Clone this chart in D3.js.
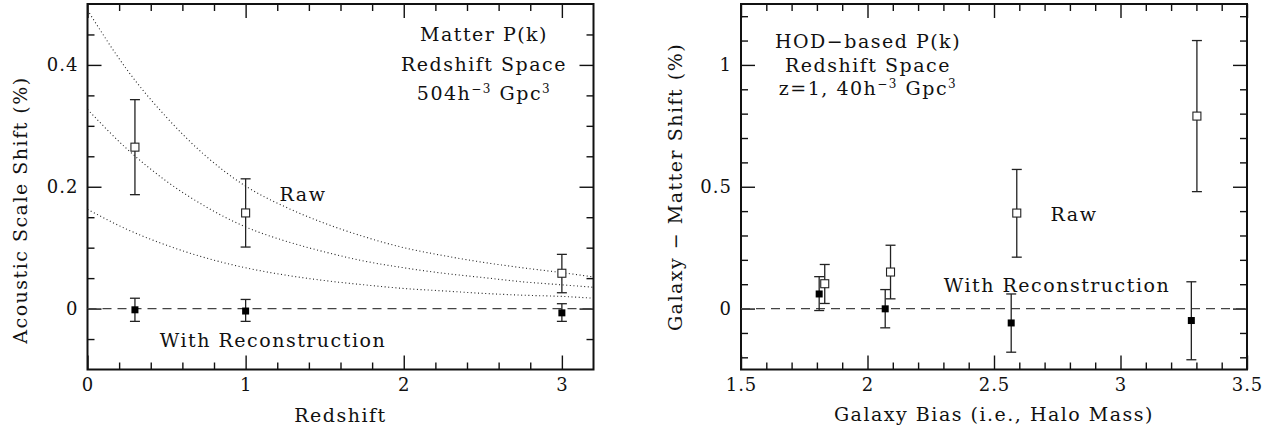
<!DOCTYPE html>
<html><head><meta charset="utf-8">
<script src="https://cdn.jsdelivr.net/npm/d3@7"></script>
<style>
body{margin:0;background:#fff;}
text{font-family:"DejaVu Serif",serif;fill:#111;}
</style></head>
<body><svg id="c" width="1276" height="431"></svg>
<script>
// ---------- Left panel data ----------
const leftZ = [0.3, 1, 3];
const leftRaw = [0.265, 0.157, 0.058];
const leftRawHi = [0.343, 0.213, 0.089];
const leftRawLo = [0.187, 0.101, 0.026];
const leftRec = [-0.002, -0.004, -0.007];
const leftRecHi = [0.017, 0.015, 0.008];
const leftRecLo = [-0.021, -0.021, -0.021];
// dotted model curves
const curveZ = [0, 0.25, 0.5, 0.75, 1, 1.25, 1.5, 1.75, 2, 2.25, 2.5, 2.75, 3, 3.2];
const curveTop = [0.490, 0.392, 0.314, 0.250, 0.201, 0.167, 0.140, 0.118, 0.100, 0.087, 0.076, 0.067, 0.059, 0.052];
const curveMid = [0.327, 0.262, 0.209, 0.167, 0.134, 0.111, 0.093, 0.078, 0.067, 0.058, 0.051, 0.044, 0.039, 0.035];
const curveLow = [0.163, 0.130, 0.104, 0.083, 0.067, 0.055, 0.046, 0.039, 0.033, 0.029, 0.025, 0.022, 0.020, 0.017];
const leftXTicks = [0, 1, 2, 3];
const leftXTickLabels = ["0", "1", "2", "3"];
const leftYTicks = [0, 0.2, 0.4];
const leftYTickLabels = ["0", "0.2", "0.4"];

// ---------- Right panel data ----------
const rawBias = [1.831, 2.091, 2.590, 3.302];
const rawShift = [0.102, 0.150, 0.392, 0.790];
const rawHi = [0.181, 0.260, 0.571, 1.100];
const rawLo = [0.021, 0.040, 0.211, 0.480];
const recBias = [1.809, 2.070, 2.568, 3.280];
const recShift = [0.060, -0.001, -0.059, -0.049];
const recHi = [0.131, 0.078, 0.060, 0.110];
const recLo = [-0.008, -0.079, -0.179, -0.210];
const rightXTicks = [1.5, 2, 2.5, 3, 3.5];
const rightXTickLabels = ["1.5", "2", "2.5", "3", "3.5"];
const rightYTicks = [0, 0.5, 1];
const rightYTickLabels = ["0", "0.5", "1"];

const svg = d3.select("#c");
const FS = 19, LS = 1.5;

function range(a, b, s){ const o=[]; for(let v=a; v<=b+1e-9; v+=s) o.push(Math.round(v*1000)/1000); return o; }

function panel(opt){
  const g = svg.append("g");
  const x = d3.scaleLinear().domain(opt.xd).range([opt.x0, opt.x1]);
  const y = d3.scaleLinear().domain(opt.yd).range([opt.y1, opt.y0]);
  const clipId = "clip"+opt.id;
  svg.append("clipPath").attr("id", clipId).append("rect")
    .attr("x", opt.x0).attr("y", opt.y0).attr("width", opt.x1-opt.x0).attr("height", opt.y1-opt.y0);

  const minorX = opt.minorX.filter(v => !opt.xTicks.some(m => Math.abs(m-v)<1e-6));
  const minorY = opt.minorY.filter(v => !opt.yTicks.some(m => Math.abs(m-v)<1e-6));
  const styleAxis = sel => { sel.select(".domain").remove(); sel.selectAll("line").attr("stroke","#111").attr("stroke-width",1.4); sel.selectAll("text").style("font-size",(FS-1)+"px").style("letter-spacing","1px").attr("fill","#111").style("font-family","DejaVu Serif"); };
  const fmtX = d => opt.xLabels[opt.xTicks.indexOf(d)];
  const fmtY = d => opt.yLabels[opt.yTicks.indexOf(d)];

  // bottom
  g.append("g").attr("transform",`translate(0,${opt.y1})`).call(d3.axisBottom(x).tickValues(opt.xTicks).tickSize(-14).tickPadding(9).tickFormat(fmtX)).call(styleAxis);
  g.append("g").attr("transform",`translate(0,${opt.y1})`).call(d3.axisBottom(x).tickValues(minorX).tickSize(-7).tickFormat("")).call(styleAxis);
  // top
  g.append("g").attr("transform",`translate(0,${opt.y0})`).call(d3.axisTop(x).tickValues(opt.xTicks).tickSize(-14).tickFormat("")).call(styleAxis);
  g.append("g").attr("transform",`translate(0,${opt.y0})`).call(d3.axisTop(x).tickValues(minorX).tickSize(-7).tickFormat("")).call(styleAxis);
  // left
  g.append("g").attr("transform",`translate(${opt.x0},0)`).call(d3.axisLeft(y).tickValues(opt.yTicks).tickSize(-14).tickPadding(9).tickFormat(fmtY)).call(styleAxis);
  g.append("g").attr("transform",`translate(${opt.x0},0)`).call(d3.axisLeft(y).tickValues(minorY).tickSize(-7).tickFormat("")).call(styleAxis);
  // right
  g.append("g").attr("transform",`translate(${opt.x1},0)`).call(d3.axisRight(y).tickValues(opt.yTicks).tickSize(-14).tickFormat("")).call(styleAxis);
  g.append("g").attr("transform",`translate(${opt.x1},0)`).call(d3.axisRight(y).tickValues(minorY).tickSize(-7).tickFormat("")).call(styleAxis);

  // frame
  g.append("rect").attr("x",opt.x0).attr("y",opt.y0).attr("width",opt.x1-opt.x0).attr("height",opt.y1-opt.y0)
    .attr("fill","none").attr("stroke","#111").attr("stroke-width",2);

  // zero dashed line
  g.append("line").attr("x1",opt.x0).attr("x2",opt.x1).attr("y1",y(0)).attr("y2",y(0))
    .attr("stroke","#444").attr("stroke-width",1.3).attr("stroke-dasharray","9,6");

  // axis titles
  g.append("text").attr("x",(opt.x0+opt.x1)/2).attr("y",opt.xTitleY).attr("text-anchor","middle")
    .style("font-size",FS+"px").style("letter-spacing",LS+"px").text(opt.xTitle);
  g.append("text").attr("transform",`translate(${opt.yTitleX},${opt.yTitleC}) rotate(-90)`).attr("text-anchor","middle")
    .attr("dominant-baseline","central").style("font-size",FS+"px").style("letter-spacing",LS+"px").text(opt.yTitle);

  return {g, x, y, clipId};
}

function errbars(P, xs, ys, hi, lo, cap){
  const g = P.g.append("g");
  xs.forEach((xv,i)=>{
    const cx = P.x(xv);
    g.append("line").attr("x1",cx).attr("x2",cx).attr("y1",P.y(hi[i])).attr("y2",P.y(lo[i])).attr("stroke","#222").attr("stroke-width",1.3);
    [hi[i], lo[i]].forEach(v=>{
      g.append("line").attr("x1",cx-cap/2).attr("x2",cx+cap/2).attr("y1",P.y(v)).attr("y2",P.y(v)).attr("stroke","#222").attr("stroke-width",1.3);
    });
  });
}
function squares(P, xs, ys, filled){
  const s = filled ? 7 : 8;
  P.g.append("g").selectAll("rect").data(xs).join("rect")
    .attr("x",(d)=>P.x(d)-s/2).attr("y",(d,i)=>P.y(ys[i])-s/2).attr("width",s).attr("height",s)
    .attr("fill", filled ? "#000" : "#fff").attr("stroke", filled ? "none" : "#222").attr("stroke-width",1.1);
}
function label(P, x, y, lines, dy){
  lines.forEach((l,i)=>{
    const t = P.g.append("text").attr("x",x).attr("y",y+i*dy).attr("text-anchor","middle")
      .style("font-size",FS+"px").style("letter-spacing",LS+"px");
    l.forEach(seg=>{
      const ts = t.append("tspan").text(seg.t);
      if(seg.sup){ ts.style("font-size","12px").attr("baseline-shift","7"); }
    });
  });
}

// ===== Left panel =====
const L = panel({id:"L", xd:[0,3.2], yd:[-0.1,0.5], x0:87.5, x1:593.5, y0:4, y1:369.5,
  xTicks:leftXTicks, xLabels:leftXTickLabels, yTicks:leftYTicks, yLabels:leftYTickLabels,
  minorX: range(0.2,3.0,0.2), minorY: range(-0.05,0.45,0.05),
  xTitle:"Redshift", xTitleY:422, yTitle:"Acoustic Scale Shift (%)", yTitleX:20, yTitleC:210});

const lineGen = d3.line().x((d,i)=>L.x(curveZ[i])).y(d=>L.y(d)).curve(d3.curveMonotoneX);
[curveTop, curveMid, curveLow].forEach(c=>{
  L.g.append("path").attr("d", lineGen(c)).attr("clip-path",`url(#${L.clipId})`)
    .attr("fill","none").attr("stroke","#222").attr("stroke-width",1.1).attr("stroke-dasharray","1,2.6");
});
errbars(L, leftZ, leftRaw, leftRawHi, leftRawLo, 10);
errbars(L, leftZ, leftRec, leftRecHi, leftRecLo, 10);
squares(L, leftZ, leftRaw, false);
squares(L, leftZ, leftRec, true);
label(L, 484, 41, [[{t:"Matter P(k)"}],[{t:"Redshift Space"}],[{t:"504h"},{t:"−3",sup:true},{t:" Gpc"},{t:"3",sup:true}]], 29.5);
L.g.append("text").attr("x",303).attr("y",200.5).attr("text-anchor","middle").style("font-size",FS+"px").style("letter-spacing",LS+"px").text("Raw");
L.g.append("text").attr("x",273).attr("y",346.5).attr("text-anchor","middle").style("font-size",FS+"px").style("letter-spacing",LS+"px").text("With Reconstruction");

// ===== Right panel =====
const R = panel({id:"R", xd:[1.5,3.5], yd:[-0.25,1.25], x0:741, x1:1247, y0:4, y1:369.5,
  xTicks:rightXTicks, xLabels:rightXTickLabels, yTicks:rightYTicks, yLabels:rightYTickLabels,
  minorX: range(1.6,3.4,0.1), minorY: range(-0.2,1.2,0.1),
  xTitle:"Galaxy Bias (i.e., Halo Mass)", xTitleY:421, yTitle:"Galaxy − Matter Shift (%)", yTitleX:675, yTitleC:187});
errbars(R, rawBias, rawShift, rawHi, rawLo, 10);
errbars(R, recBias, recShift, recHi, recLo, 10);
squares(R, rawBias, rawShift, false);
squares(R, recBias, recShift, true);
label(R, 868, 48, [[{t:"HOD−based P(k)"}],[{t:"Redshift Space"}],[{t:"z=1, 40h"},{t:"−3",sup:true},{t:" Gpc"},{t:"3",sup:true}]], 23.5);
R.g.append("text").attr("x",1074).attr("y",221).attr("text-anchor","middle").style("font-size",FS+"px").style("letter-spacing",LS+"px").text("Raw");
R.g.append("text").attr("x",1057).attr("y",291.5).attr("text-anchor","middle").style("font-size",FS+"px").style("letter-spacing",LS+"px").text("With Reconstruction");
</script></body></html>
